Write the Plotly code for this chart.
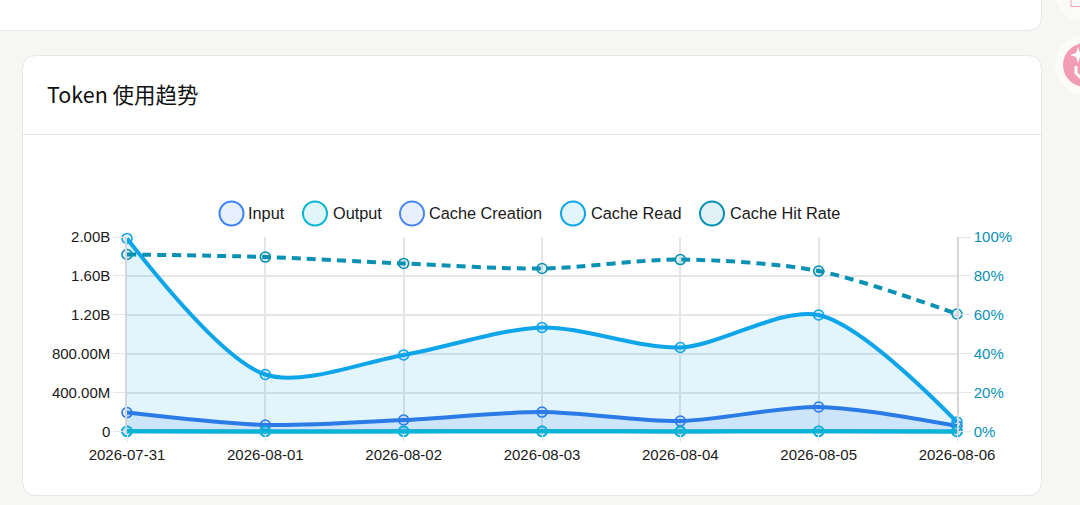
import plotly.graph_objects as go

# ─── Data ─────────────────────────────────────────────────────────────────────
DATES = ["2026-07-31", "2026-08-01", "2026-08-02", "2026-08-03",
         "2026-08-04", "2026-08-05", "2026-08-06"]

INPUT          = [2.0e6, 1.0e6, 1.5e6, 2.0e6, 1.2e6, 2.2e6, 0.6e6]
OUTPUT         = [1.5e6, 0.8e6, 1.2e6, 1.6e6, 1.0e6, 1.8e6, 0.5e6]
CACHE_CREATION = [195e6, 67e6, 118e6, 200e6, 108e6, 252e6, 57e6]
CACHE_READ     = [1.985e9, 586e6, 787e6, 1.07e9, 864e6, 1.198e9, 98e6]
CACHE_HIT_RATE = [91.0, 89.7, 86.4, 83.8, 88.4, 82.5, 60.4]

Y_TICKS   = [0, 400e6, 800e6, 1.2e9, 1.6e9, 2.0e9]
Y_LABELS  = ["0", "400.00M", "800.00M", "1.20B", "1.60B", "2.00B"]
Y2_TICKS  = [0, 20, 40, 60, 80, 100]
Y2_LABELS = ["0%", "20%", "40%", "60%", "80%", "100%"]

SERIES_NAMES = ["Input", "Output", "Cache Creation", "Cache Read", "Cache Hit Rate"]

# ─── Style ────────────────────────────────────────────────────────────────────
W, H = 1080, 505
BG     = "#f6f6f4"
BORDER = "#e6e6e4"
GRID   = "#e5e6e8"
TEXT   = "#1a1a1a"
FONT   = "Liberation Sans, Arial, sans-serif"

C_INPUT, C_OUTPUT, C_CREATE, C_READ, C_RATE = (
    "#3b82f6", "#06b6d4", "#2f76e6", "#0ea5e9", "#0891b2")
LEGEND_COLORS = ["#3b82f6", "#06b6d4", "#4a86f0", "#0ea5e9", "#0891b2"]
LEGEND_CIRCLE_X = [231.5, 315, 412, 573, 712]
LEGEND_TEXT_X   = [246, 330.5, 427, 588.5, 727.5]

# axes reach a little below zero so the flat lines at 0 are not cut in half
PLOT_BOTTOM = 433.93
Y_MIN, Y2_MIN = -25e6, -1.25


def rgba(color, a):
    r, g, b = int(color[1:3], 16), int(color[3:5], 16), int(color[5:7], 16)
    return f"rgba({r},{g},{b},{a})"


def px(x):
    return x / W


def py(y):
    return 1 - y / H


def round_rect(x0, y0, x1, y1, r):
    a, b, c, d = px(x0), px(x1), py(y0), py(y1)
    rx, ry = r / W, r / H
    return (f"M{a + rx},{c} L{b - rx},{c} Q{b},{c} {b},{c - ry} L{b},{d + ry} "
            f"Q{b},{d} {b - rx},{d} L{a + rx},{d} Q{a},{d} {a},{d + ry} "
            f"L{a},{c - ry} Q{a},{c} {a + rx},{c} Z")


def circle(cx, cy, r, **kw):
    return dict(type="circle", xref="paper", yref="paper", layer="below",
                x0=px(cx - r), x1=px(cx + r), y0=py(cy + r), y1=py(cy - r), **kw)


def icon_path(points, close=True):
    d = "M" + " L".join(f"{px(x)},{py(y)}" for x, y in points)
    return d + (" Z" if close else "")


def line_trace(name, values, color, yaxis="y", fill=True, dash="solid"):
    return go.Scatter(
        x=DATES, y=values, name=name, yaxis=yaxis, mode="lines+markers",
        line=dict(color=color, width=4, shape="spline", smoothing=0.85, dash=dash),
        marker=dict(size=10, color=rgba(color, 0.12), line=dict(color=color, width=1.6)),
        fill="tozeroy" if fill else None,
        fillcolor=rgba(color, 0.12) if fill else None,
        cliponaxis=False, showlegend=False,
    )


# ─── Figure ───────────────────────────────────────────────────────────────────
fig = go.Figure()
fig.add_trace(line_trace(SERIES_NAMES[0], INPUT, C_INPUT))
fig.add_trace(line_trace(SERIES_NAMES[2], CACHE_CREATION, C_CREATE))
fig.add_trace(line_trace(SERIES_NAMES[3], CACHE_READ, C_READ))
fig.add_trace(line_trace(SERIES_NAMES[1], OUTPUT, C_OUTPUT))
fig.add_trace(line_trace(SERIES_NAMES[4], CACHE_HIT_RATE, C_RATE, yaxis="y2",
                         fill=False, dash="9px,6px"))

shapes = [
    # cards
    dict(type="path", path=round_rect(-40, -40, 1041.5, 30.5, 14), xref="paper", yref="paper",
         fillcolor="white", line=dict(color=BORDER, width=1), layer="below"),
    dict(type="path", path=round_rect(22.5, 55.5, 1041.5, 495.5, 14), xref="paper", yref="paper",
         fillcolor="white", line=dict(color=BORDER, width=1), layer="below"),
    dict(type="line", xref="paper", yref="paper", layer="below",
         x0=px(22.5), x1=px(1041.5), y0=py(134.5), y1=py(134.5),
         line=dict(color=BORDER, width=1)),
    # floating buttons on the right edge
    circle(1085, -8, 30, fillcolor="#fbfbfa", line=dict(width=0)),
    dict(type="rect", xref="paper", yref="paper", layer="below",
         x0=px(1071), x1=px(1085), y0=py(6.5), y1=py(-5),
         fillcolor="rgba(0,0,0,0)", line=dict(color="#f3a3b8", width=1)),
    circle(1085, 65, 30, fillcolor="#fbfbfa", line=dict(width=0)),
    circle(1085, 65, 22, fillcolor="#f39db4", line=dict(width=0)),
    dict(type="path", xref="paper", yref="paper", layer="below",
         path=icon_path([(1078, 47), (1080, 53), (1086, 55), (1080, 57),
                         (1078, 63), (1076, 57), (1070, 55), (1076, 53)]),
         fillcolor="white", line=dict(width=0)),
    dict(type="path", xref="paper", yref="paper", layer="below",
         path=icon_path([(1076, 66), (1076, 73), (1080, 77), (1086, 77), (1089, 73)], close=False),
         fillcolor="rgba(0,0,0,0)", line=dict(color="white", width=3)),
]
annotations = [
    dict(text="Token 使用趋势", xref="paper", yref="paper", x=px(44.5), y=py(94),
         xanchor="left", yanchor="middle", showarrow=False,
         font=dict(family="Noto Sans CJK SC, Noto Sans, sans-serif", size=21.5, color="#111111")),
]
for name, color, cx, tx in zip(SERIES_NAMES, LEGEND_COLORS, LEGEND_CIRCLE_X, LEGEND_TEXT_X):
    shapes.append(circle(cx, 213.5, 12, fillcolor=rgba(color, 0.12),
                         line=dict(color=color, width=2)))
    annotations.append(dict(text=name, xref="paper", yref="paper", x=px(tx), y=py(213.5),
                            xanchor="left", yanchor="middle", showarrow=False,
                            font=dict(family=FONT, size=16.3, color=TEXT)))

fig.update_layout(
    width=W, height=H, autosize=False,
    margin=dict(l=0, r=0, t=0, b=0, pad=0),
    paper_bgcolor=BG, plot_bgcolor="rgba(0,0,0,0)",
    font=dict(family=FONT, size=15, color=TEXT),
    shapes=shapes, annotations=annotations, showlegend=False, hovermode="x",
    xaxis=dict(
        type="category", domain=[px(127), px(957)], range=[0, len(DATES) - 1],
        categoryorder="array", categoryarray=DATES,
        showgrid=True, gridcolor=GRID, gridwidth=1.5, zeroline=False,
        showline=False, ticks="outside", ticklen=7, tickcolor=GRID,
        tickfont=dict(size=15, color=TEXT), tickangle=0, automargin=False,
    ),
    yaxis=dict(
        domain=[py(PLOT_BOTTOM), py(237)], range=[Y_MIN, 2.0e9],
        tickvals=Y_TICKS, ticktext=Y_LABELS,
        showgrid=True, gridcolor=GRID, gridwidth=1.5, zeroline=False,
        showline=True, linecolor="#d4d6d9", linewidth=1.5,
        ticks="outside", ticklen=12, tickcolor=GRID,
        tickfont=dict(size=15, color=TEXT), automargin=False,
    ),
    yaxis2=dict(
        domain=[py(PLOT_BOTTOM), py(237)], range=[Y2_MIN, 100], overlaying="y", side="right",
        anchor="x", tickvals=Y2_TICKS, ticktext=Y2_LABELS,
        showgrid=False, zeroline=False,
        showline=True, linecolor="#d4d6d9", linewidth=1.5,
        ticks="outside", ticklen=12, tickcolor=GRID,
        tickfont=dict(size=15, color=C_RATE), automargin=False,
    ),
)

fig.write_html("out.html", config={"displayModeBar": False},
               post_script="document.body.style.margin='0';document.body.style.overflow='hidden';")
